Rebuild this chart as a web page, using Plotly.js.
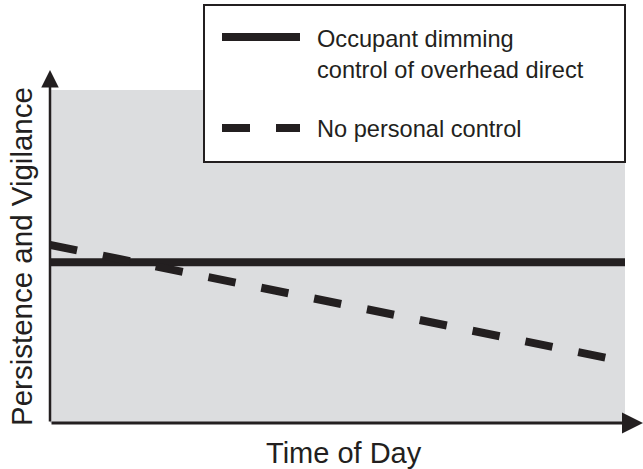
<!DOCTYPE html>
<html>
<head>
<meta charset="utf-8">
<script src="https://cdn.plot.ly/plotly-3.0.1.min.js"></script>
<style>html,body{margin:0;padding:0;background:#fff;}#chart{width:643px;height:469px;}</style>
</head>
<body>
<div id="chart"></div>
<script>
// ---- data ----
const seriesNames = ["Occupant dimming<br>control of overhead direct", "No personal control"];
const timeSolid = [0, 1];
const valuesSolid = [0.483, 0.483];
const timeDashed = [0, 0.969];
const valuesDashed = [0.535, 0.195];
const xTitle = "Time of Day";
const yTitle = "Persistence and Vigilance";

// ---- layout helpers (pixel -> paper) ----
const W = 643, H = 469, ML = 50, MR = 0, MT = 70, MB = 46;
const PW = W - ML - MR, PH = H - MT - MB;
const px = v => (v - ML) / PW;
const py = v => (H - MB - v) / PH;

const ink = "#231f20";
const FONT = "Liberation Sans, Arial, sans-serif";

const traces = [
  {x: timeSolid, y: valuesSolid, name: seriesNames[0], mode: "lines",
   line: {color: ink, width: 8}, showlegend: false, hoverinfo: "skip"},
  {x: timeDashed, y: valuesDashed, name: seriesNames[1], mode: "lines",
   line: {color: ink, width: 8, dash: "27.6px,26.3px"}, showlegend: false, hoverinfo: "skip"}
];

const xMax = (W - ML) / 575;   // 1 unit = 575px
const yMax = (H - MB - MT) / 333;

const shapes = [
  // gray plot background
  {type: "rect", xref: "x", yref: "y", x0: 0, x1: 1, y0: 0, y1: 1,
   fillcolor: "#dcdddf", line: {width: 0}, layer: "below"},
  // legend box
  {type: "rect", xref: "paper", yref: "paper", x0: px(204), x1: px(625), y0: py(162), y1: py(5),
   fillcolor: "#ffffff", line: {color: ink, width: 2}, layer: "above"},
  // legend samples
  {type: "line", xref: "paper", yref: "paper", x0: px(222), x1: px(300), y0: py(37), y1: py(37),
   line: {color: ink, width: 8}, layer: "above"},
  {type: "line", xref: "paper", yref: "paper", x0: px(222), x1: px(300), y0: py(128), y1: py(128),
   line: {color: ink, width: 8, dash: "28px,26px"}, layer: "above"}
];

const annotations = [
  // axes with arrows
  {x: 0, y: yMax, ax: 0, ay: 0, xref: "x", yref: "y", axref: "x", ayref: "y",
   showarrow: true, arrowhead: 2, arrowsize: 1.4, arrowwidth: 2.5, arrowcolor: ink, text: ""},
  {x: xMax, y: 0, ax: 0, ay: 0, xref: "x", yref: "y", axref: "x", ayref: "y",
   showarrow: true, arrowhead: 2, arrowsize: 1.4, arrowwidth: 3, arrowcolor: ink, text: ""},
  // titles
  {x: px(344), y: py(453), xref: "paper", yref: "paper", text: xTitle, showarrow: false,
   xanchor: "center", yanchor: "middle", font: {family: FONT, size: 29, color: ink}},
  {x: px(21), y: py(257), xref: "paper", yref: "paper", text: yTitle, showarrow: false,
   textangle: -90, xanchor: "center", yanchor: "middle", font: {family: FONT, size: 29.5, color: ink}},
  // legend text
  {x: px(315), y: py(54), xref: "paper", yref: "paper", text: seriesNames[0], showarrow: false,
   xanchor: "left", yanchor: "middle", align: "left", font: {family: FONT, size: 23.6, color: ink}},
  {x: px(315), y: py(129), xref: "paper", yref: "paper", text: seriesNames[1], showarrow: false,
   xanchor: "left", yanchor: "middle", align: "left", font: {family: FONT, size: 23.6, color: ink}}
];

const layout = {
  width: W, height: H,
  margin: {l: ML, r: MR, t: MT, b: MB, pad: 0},
  paper_bgcolor: "#ffffff", plot_bgcolor: "rgba(0,0,0,0)",
  xaxis: {range: [0, xMax], visible: false, fixedrange: true},
  yaxis: {range: [0, yMax], visible: false, fixedrange: true},
  showlegend: false,
  shapes: shapes,
  annotations: annotations
};

Plotly.newPlot("chart", traces, layout, {staticPlot: true, displayModeBar: false});
</script>
</body>
</html>
